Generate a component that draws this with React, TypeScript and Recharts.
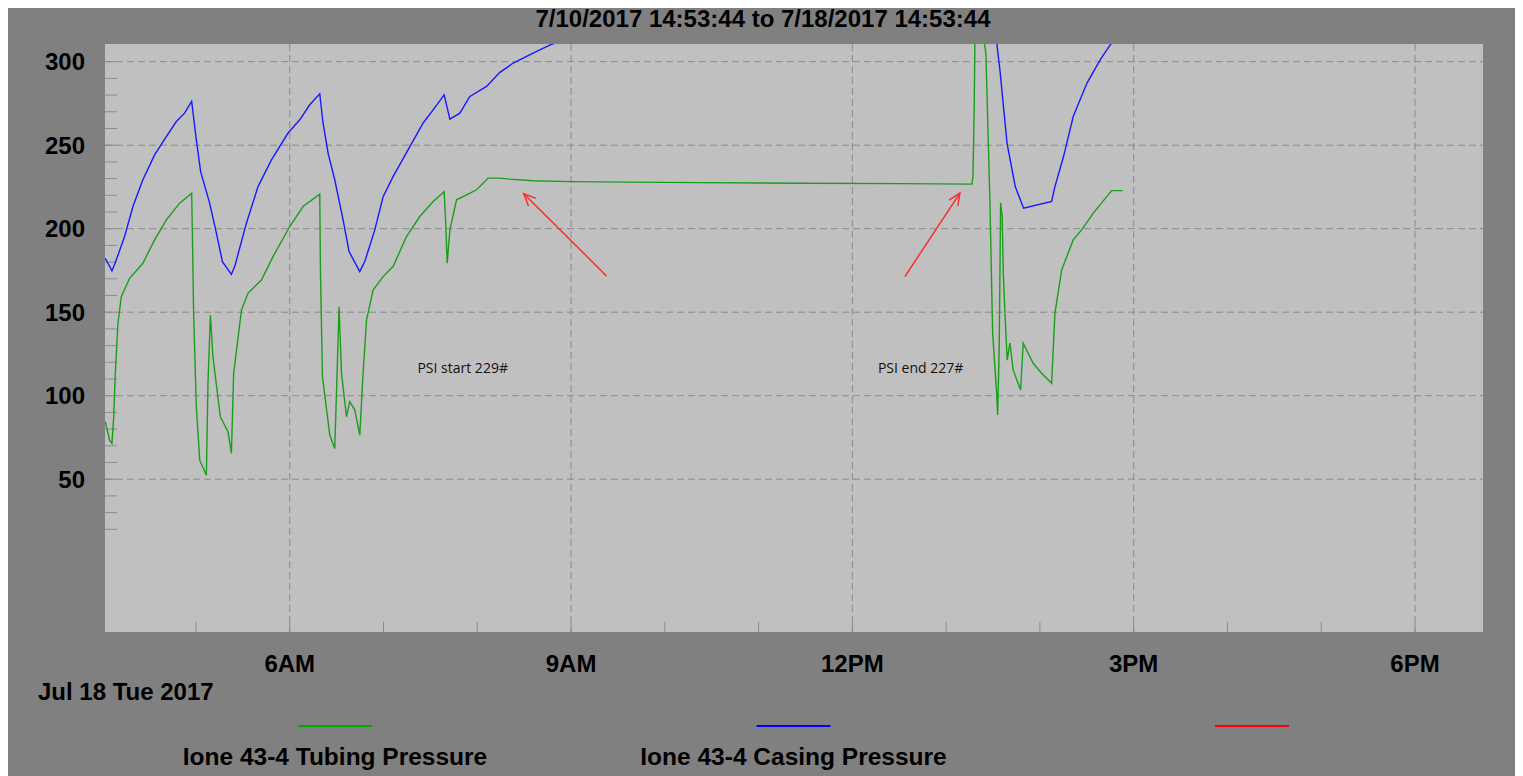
import React from "react";
import {
  LineChart,
  Line,
  XAxis,
  YAxis,
  CartesianGrid,
  ReferenceLine,
  ReferenceDot,
} from "recharts";

// hours since midnight, Jul 18 2017
const tubingHours = [
  4.033, 4.079, 4.104, 4.122, 4.14, 4.168, 4.204, 4.292, 4.434, 4.559, 4.684,
  4.826, 4.954, 4.962, 4.975, 5.004, 5.04, 5.111, 5.128, 5.154, 5.181, 5.26,
  5.342, 5.378, 5.402, 5.485, 5.555, 5.698, 5.822, 6.0, 6.142, 6.32, 6.328,
  6.349, 6.427, 6.48, 6.505, 6.526, 6.552, 6.605, 6.64, 6.694, 6.747, 6.782,
  6.819, 6.889, 6.996, 7.102, 7.245, 7.387, 7.529, 7.647, 7.665, 7.679, 7.708,
  7.779, 7.886, 7.992, 8.116, 8.241, 8.348, 8.597, 9.006, 9.593, 10.375,
  11.443, 12.51, 13.275, 13.286, 13.299, 13.31, 13.4, 13.408, 13.424, 13.467,
  13.496, 13.538, 13.549, 13.566, 13.581, 13.598, 13.609, 13.627, 13.651,
  13.68, 13.715, 13.794, 13.822, 13.928, 14.018, 14.125, 14.16, 14.232,
  14.355, 14.445, 14.569, 14.765, 14.882,
];
const tubingPsi = [
  84.4, 73.4, 71.4, 86.4, 113.4, 143.4, 159.3, 170.3, 179.3, 193.3, 205.3,
  215.3, 221.3, 197.3, 149.3, 93.4, 61.4, 52.4, 107.4, 148.3, 123.3, 87.4,
  78.4, 65.4, 113.4, 151.3, 161.3, 169.3, 183.3, 201.3, 213.3, 220.7, 173.3,
  111.3, 76.4, 68.4, 113.4, 153.3, 113.4, 87.4, 96.4, 91.4, 76.4, 113.4,
  145.3, 163.3, 171.3, 177.3, 195.3, 207.3, 216.3, 222.2, 201.3, 179.3, 199.3,
  217.3, 220.3, 223.3, 230.3, 230.3, 229.7, 228.7, 228.2, 227.9, 227.6,
  227.2, 227.0, 226.7, 231.2, 271.2, 330, 335, 311, 304.8, 215.5,
  137.5, 101.6, 88.4, 129.1, 215.5, 207.1, 173.5, 149.5, 121.3,
  131.5, 115.3, 103.4, 131.5, 119.4, 113.4, 107.4, 149.3, 175.3,
  193.3, 199.3, 209.3, 222.8, 222.8,
];

const casingHours = [
  4.033, 4.104, 4.14, 4.239, 4.328, 4.434, 4.559, 4.684, 4.791, 4.879, 4.954,
  5.004, 5.05, 5.146, 5.218, 5.282, 5.378, 5.413, 5.538, 5.662, 5.805, 5.982,
  6.107, 6.213, 6.32, 6.355, 6.409, 6.48, 6.569, 6.633, 6.747, 6.8, 6.907,
  6.996, 7.102, 7.281, 7.423, 7.529, 7.647, 7.708, 7.814, 7.921, 8.099, 8.241,
  8.383, 8.633, 8.785, 9.2, 10.0, 11.0, 12.0, 13.0, 13.45, 13.542, 13.577,
  13.649, 13.737, 13.826, 14.125, 14.16, 14.252, 14.355, 14.502, 14.644,
  14.751, 14.882,
];
const casingPsi = [
  182.3, 174.7, 179.7, 195.3, 213.3, 229.3, 244.2, 255.2, 264.2, 269.2, 276.2,
  253.2, 234.2, 215.3, 197.3, 180.3, 172.7, 177.3, 203.3, 225.2, 241.2, 257.3,
  265.2, 274.2, 280.8, 263.3, 245.3, 229.3, 205.3, 186.3, 174.3, 180.3, 199.3,
  219.2, 231.2, 249.2, 263.3, 271.2, 280.2, 265.6, 269.2, 279.2, 285.2, 293.6,
  299.2, 306.2, 310.2, 318, 326, 332, 336, 340, 342, 310.2, 293.2,
  251.3, 225.2, 212.3, 216.3, 225.2, 243.2, 267.2, 287.2, 301.2,
  310.2, 318,
];

const majorHourTicks = [6, 9, 12, 15, 18];
const minorHourTicks = [5, 6, 7, 8, 9, 10, 11, 12, 13, 14, 15, 16, 17, 18];
const hourLabels: Record<number, string> = {
  6: "6AM",
  9: "9AM",
  12: "12PM",
  15: "3PM",
  18: "6PM",
};
const psiTicks = [50, 100, 150, 200, 250, 300];
const minorPsiTicks = [
  20, 30, 40, 50, 60, 70, 80, 90, 100, 110, 120, 130, 140, 150, 160, 170, 180,
  190, 200, 210, 220, 230, 240, 250, 260, 270, 280, 290, 300,
];

const seriesNames = ["Ione 43-4 Tubing Pressure", "Ione 43-4 Casing Pressure", ""];
const seriesColors = ["#00a800", "#0000ff", "#ff0000"];

const title = "7/10/2017 14:53:44 to 7/18/2017 14:53:44";
const dateLabel = "Jul 18 Tue 2017";

// notes drawn on the chart: [hour, psi]
const notes = [
  { text: "PSI start 229#", at: [7.362, 115.9] },
  { text: "PSI end 227#", at: [12.272, 115.9] },
];
const arrows = [
  { from: [9.378, 171.7], to: [8.496, 220.9] },
  { from: [12.56, 171.3], to: [13.147, 221.3] },
];

const tubing = tubingHours.map((t, i) => ({ t, v: tubingPsi[i] }));
const casing = casingHours.map((t, i) => ({ t, v: casingPsi[i] }));

const FONT = "'Liberation Sans', Arial, sans-serif";
const W = 1515;
const H = 772;
const X_DOMAIN: [number, number] = [4.03, 18.725];
const Y_DOMAIN: [number, number] = [-41.5, 310.6];
const TICK_GREY = "#8c8c8c";

function Arrow(props: any) {
  const { x1, y1, x2, y2 } = props;
  const a = Math.atan2(y2 - y1, x2 - x1);
  const len = 13;
  const spread = 0.42;
  const l = [x2 - len * Math.cos(a - spread), y2 - len * Math.sin(a - spread)];
  const r = [x2 - len * Math.cos(a + spread), y2 - len * Math.sin(a + spread)];
  return (
    <g stroke="#ff2a2a" strokeWidth={1.5} fill="none">
      <line x1={x1} y1={y1} x2={x2} y2={y2} />
      <polyline points={`${l[0]},${l[1]} ${x2},${y2} ${r[0]},${r[1]}`} />
    </g>
  );
}

// short inward tick at the bottom edge of the plot
function HourTick(props: any) {
  const { x1, y1, y2 } = props;
  const bottom = Math.max(y1, y2);
  return <line x1={x1} x2={x1} y1={bottom} y2={bottom - 10} stroke={TICK_GREY} />;
}

// short inward tick at the left edge of the plot
function PsiTick(props: any) {
  const { x1, x2, y1 } = props;
  const left = Math.min(x1, x2);
  return <line x1={left} x2={left + 12} y1={y1} y2={y1} stroke={TICK_GREY} />;
}

export default function App() {
  return (
    <div
      style={{
        position: "relative",
        marginTop: -4,
        width: W,
        height: H,
        background: "#808080",
        fontFamily: FONT,
      }}
    >
      <LineChart
        width={W}
        height={H}
        margin={{ top: 40, right: 40, bottom: 0, left: 0 }}
      >
        <CartesianGrid
          fill="#c0c0c0"
          stroke="#8a8a8a"
          strokeDasharray="7 4"
          horizontalValues={psiTicks}
          verticalValues={majorHourTicks}
        />
        <XAxis
          type="number"
          dataKey="t"
          domain={X_DOMAIN}
          ticks={majorHourTicks}
          allowDataOverflow
          height={144}
          tickSize={0}
          tickMargin={23}
          axisLine={false}
          tickFormatter={(h: number) => hourLabels[h] ?? ""}
          tick={{ fontSize: 24, fontWeight: 700, fill: "#000", fontFamily: FONT }}
        />
        <YAxis
          type="number"
          domain={Y_DOMAIN}
          ticks={psiTicks}
          allowDataOverflow
          width={97}
          tickSize={0}
          tickMargin={20}
          axisLine={false}
          tick={{ fontSize: 24, fontWeight: 700, fill: "#000", fontFamily: FONT }}
        />
        {minorHourTicks.map((h) => (
          <ReferenceLine key={`ht-${h}`} x={h} shape={(p: any) => <HourTick {...p} />} />
        ))}
        {minorPsiTicks.map((v) => (
          <ReferenceLine key={`pt-${v}`} y={v} shape={(p: any) => <PsiTick {...p} />} />
        ))}
        <Line
          data={tubing}
          dataKey="v"
          type="linear"
          stroke="#1a9e1a"
          strokeWidth={1.4}
          dot={false}
          isAnimationActive={false}
        />
        <Line
          data={casing}
          dataKey="v"
          type="linear"
          stroke="#1818ff"
          strokeWidth={1.4}
          dot={false}
          isAnimationActive={false}
        />
        {arrows.map((a, i) => (
          <ReferenceLine
            key={`arrow-${i}`}
            segment={[
              { x: a.from[0], y: a.from[1] },
              { x: a.to[0], y: a.to[1] },
            ]}
            shape={(p: any) => <Arrow {...p} />}
          />
        ))}
        {notes.map((n, i) => (
          <ReferenceDot
            key={`note-${i}`}
            x={n.at[0]}
            y={n.at[1]}
            shape={(p: any) => (
              <text
                x={p.cx}
                y={p.cy}
                dominantBaseline="middle"
                fontSize={14}
                fill="#111"
                fontFamily="'Open Sans', 'Noto Sans', sans-serif"
              >
                {n.text}
              </text>
            )}
          />
        ))}
      </LineChart>

      <svg
        width={W}
        height={H}
        style={{ position: "absolute", left: 0, top: 0, pointerEvents: "none" }}
        fontFamily={FONT}
        fontWeight={700}
      >
        <text x={755} y={22.5} textAnchor="middle" fontSize={24} fill="#000">
          {title}
        </text>
        <text x={30} y={696} fontSize={24} fill="#000">
          {dateLabel}
        </text>
        {seriesNames.map((name, i) => {
          const cx = 327 + i * 458.5;
          return (
            <g key={i}>
              <line
                x1={cx - 37}
                x2={cx + 37}
                y1={722}
                y2={722}
                stroke={seriesColors[i]}
                strokeWidth={2}
              />
              {name && (
                <text x={cx} y={761} textAnchor="middle" fontSize={24.5} fill="#000">
                  {name}
                </text>
              )}
            </g>
          );
        })}
      </svg>
    </div>
  );
}
